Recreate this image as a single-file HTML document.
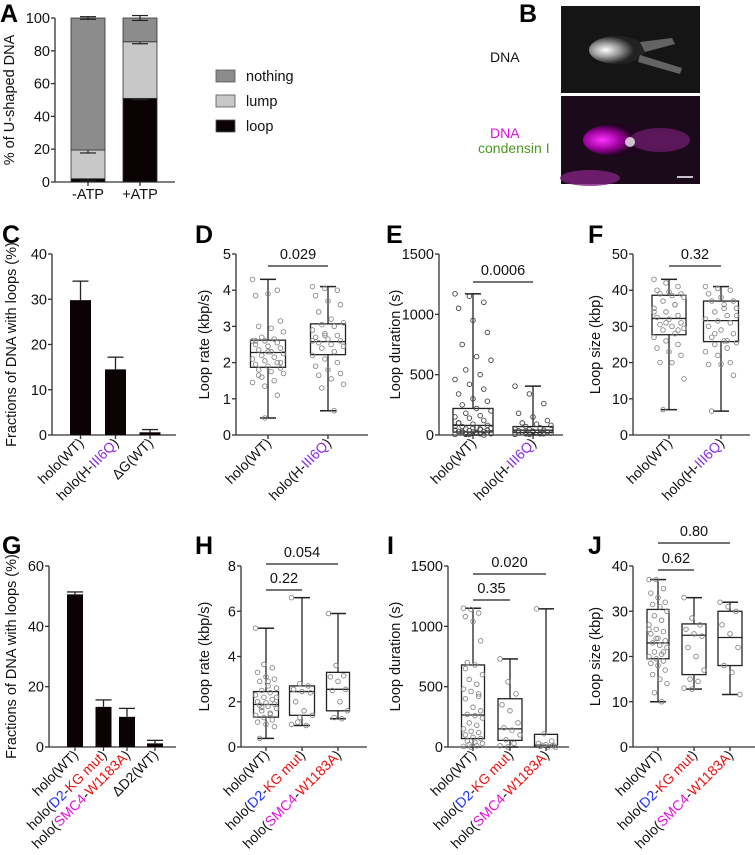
<!DOCTYPE html>
<html><head><meta charset="utf-8"><style>
html,body{margin:0;padding:0;background:#fff}
svg{display:block;font-family:"Liberation Sans",Arial,sans-serif}
</style></head><body>
<svg id="fig" width="755" height="855" viewBox="0 0 755 855" xmlns="http://www.w3.org/2000/svg">
<defs>
<radialGradient id="g1" cx="0.3" cy="0.5" r="0.5"><stop offset="0" stop-color="#fff"/><stop offset="0.5" stop-color="#999"/><stop offset="1" stop-color="#222"/></radialGradient>
<radialGradient id="g2" cx="0.3" cy="0.5" r="0.5"><stop offset="0" stop-color="#f3f"/><stop offset="0.6" stop-color="#909"/><stop offset="1" stop-color="#200420"/></radialGradient>
</defs>
<g>
<rect x="561" y="6" width="139" height="87" fill="#151515"/>
<ellipse cx="617" cy="50" rx="28" ry="14" fill="url(#g1)"/>
<polygon points="640,42 672,38 675,44 645,52" fill="#777" opacity="0.8"/>
<polygon points="640,55 682,68 680,74 638,62" fill="#777" opacity="0.8"/>
<rect x="561" y="96" width="139" height="88" fill="#1a0a1a"/>
<ellipse cx="615" cy="140" rx="32" ry="16" fill="url(#g2)"/>
<ellipse cx="660" cy="140" rx="30" ry="12" fill="#6a1a6a" opacity="0.8"/>
<circle cx="630" cy="142" r="5" fill="#eee" opacity="0.8"/>
<ellipse cx="590" cy="178" rx="30" ry="8" fill="#802080" opacity="0.8"/>
<line x1="677" y1="177" x2="693" y2="177" stroke="#fff" stroke-width="1.5"/>
<text x="490" y="62" font-size="14" fill="#111">DNA</text>
<text x="490" y="138" font-size="14" fill="#e010e0">DNA</text>
<text x="478" y="153" font-size="14" fill="#4a9a20">condensin I</text>
</g>
</svg>
<script>
const NS='http://www.w3.org/2000/svg';
const svg=document.getElementById('fig');
function mk(tag,attrs,parent,txt){const e=document.createElementNS(NS,tag);for(const k in attrs)e.setAttribute(k,attrs[k]);if(txt!==undefined)e.textContent=txt;(parent||svg).appendChild(e);return e;}

const aCats=['-ATP','+ATP'];
const aLoop=[2,51];
const aLump=[17.5,34.5];
const aNothing=[80.5,14.5];
const aLoopErr=[1.5,0.8];
const aLumpErr=[1.8,1.2];
const aNothingErr=[0.8,1.5];

const cCats=['holo(WT)','holo(H-III6Q)','ΔG(WT)'];
const cVals=[29.8,14.5,0.6];
const cErr=[4.2,2.7,0.6];

const gCats=['holo(WT)','holo(D2-KG mut)','holo(SMC4-W1183A)','ΔD2(WT)'];
const gVals=[50.6,13.3,10,1.2];
const gErr=[0.8,2.3,2.8,1.0];

const dWT=[4.3,0.47,4.0,3.85,3.9,3.15,3.0,2.95,2.85,2.7,2.65,2.6,2.6,2.55,2.5,2.45,2.4,2.35,2.3,2.25,2.2,2.15,2.1,2.05,2.0,1.95,1.9,1.85,1.8,1.75,1.7,1.6,1.5,1.45,1.35,1.1,2.6,2.3,2.0,1.65];
const dH=[4.1,4.05,4.0,3.85,3.7,3.6,3.4,3.2,3.1,3.05,3.0,2.9,2.8,2.75,2.7,2.65,2.6,2.55,2.5,2.45,2.4,2.3,2.2,2.1,2.0,1.9,1.8,1.7,1.65,1.55,1.4,1.3,0.67,2.6,2.75];
const dStats=[[0.47,1.87,2.28,2.62,4.3],[0.67,2.22,2.58,3.07,4.1]];
const eWT=[1170,1150,1100,1050,950,850,750,650,620,540,500,460,420,380,340,300,280,250,220,200,180,160,150,140,120,100,90,80,70,60,55,50,45,40,35,30,30,25,20,20,15,15,10,10,5,5,0,100,60,40,30,20,10,5,50,70];
const eH=[405,340,260,180,150,120,100,90,80,70,60,50,45,40,35,30,25,20,20,15,10,10,5,5,10,20,30];
const eStats=[[0,25,80,220,1170],[0,20,40,70,405]];
const fWT=[43,42,41,40,39.5,39,39,38.5,38,37,36,35,34,33,32.5,32,31,30.5,30,29.5,29,28,27,26,25,24,23,22,20,20,15.5,7,36,34,31,29];
const fH=[41,40.5,40,39,38,37,37,36,35,34,33,32,31.5,31,30,29,28,27,26,25.5,25,24,23,22,20,19.5,19.5,16.5,6.6,35,33,28,26];
const fStats=[[7,27.7,32.2,38.6,43],[6.6,25.8,31.6,37,41]];
const hWT=[5.25,3.65,3.5,3.3,3.1,3.0,2.9,2.7,2.6,2.5,2.4,2.3,2.2,2.1,2.0,1.95,1.9,1.85,1.8,1.7,1.6,1.5,1.4,1.3,1.2,1.1,1.0,0.9,0.38,2.9,2.2,1.75,1.45];
const hD2=[6.6,2.8,2.7,2.55,2.45,2.4,2.0,1.6,1.4,1.1,0.95,1.0,1.3];
const hSM=[5.9,3.6,3.15,3.1,2.9,2.55,2.5,2.0,1.6,1.3,1.25];
const hStats=[[0.38,1.32,1.88,2.45,5.25],[0.95,1.4,2.45,2.7,6.6],[1.25,1.6,2.55,3.3,5.9]];
const iWT=[1150,1140,1110,1080,1040,880,700,680,600,560,520,480,460,420,400,330,300,270,260,240,200,180,150,130,120,100,80,70,50,40,30,20,10,5,0,440,650];
const iD2=[730,540,440,350,300,200,160,140,100,60,30,10,0];
const iSM=[1145,110,50,30,20,10,5,0,0,15];
const iStats=[[0,70,265,680,1150],[0,55,150,400,730],[0,0,15,105,1145]];
const jWT=[37,37,35,34,33,32,31.5,31,30,29,28,27,26,25.5,25,24,23.5,23,22.5,22,21,20.5,20,19.5,19,18.5,18,17,16,15,14,12,10,26,24,21];
const jD2=[33,28.5,27,26,25,24.5,22,20,17,15,14.5,13,12.8];
const jSM=[32,31,30,27,25,22,18,16.5,11.6];
const jStats=[[10,19.5,23,30.4,37],[12.8,16,24.7,27.2,33],[11.6,18,24.2,30,32]];

function panelLetter(t,x,y){const e=mk('text',{x:x,y:y,'font-size':25,'font-weight':'bold',fill:'#000'},svg,t);

}
function axes(p){
 const g=mk('g',{});
 
 
 const y=v=>p.yBot-(v/p.max)*(p.yBot-p.yTop);
 mk('line',{x1:p.x0,y1:p.yTop,x2:p.x0,y2:p.yBot,stroke:'#333','stroke-width':1.3},g);
 mk('line',{x1:p.x0,y1:p.yBot,x2:p.x1,y2:p.yBot,stroke:'#333','stroke-width':1.3},g);
 p.ticks.forEach(t=>{const yy=y(t);mk('line',{x1:p.x0-4,y1:yy,x2:p.x0,y2:yy,stroke:'#333','stroke-width':1.3},g);
  const tl=mk('text',{x:p.x0-5,y:yy+5,'font-size':14.5,'text-anchor':'end',fill:'#111'},g,String(t));
  
  });
 const tt=mk('text',{transform:`translate(${p.titleX},${(p.yTop+p.yBot)/2}) rotate(-90)`,'font-size':14.5,'text-anchor':'middle',fill:'#111'},g,p.title);
 
 
 return y;}
function xLabel(parts,x,yAx){
 const t=mk('text',{transform:`translate(${x+4},${yAx+9}) rotate(-45)`,'font-size':14,'text-anchor':'end',fill:'#111'});
 
 
 parts.forEach(p=>mk('tspan',{fill:p[1]},t,p[0]));}
function xTick(x,yAx){mk('line',{x1:x,y1:yAx,x2:x,y2:yAx+4,stroke:'#333','stroke-width':1.3});}
function sig(x1,x2,yy,label){
 const g=mk('g',{});
 
 
 mk('line',{x1:x1,y1:yy,x2:x2,y2:yy,stroke:'#222','stroke-width':1.2},g);
 mk('text',{x:(x1+x2)/2,y:yy-7,'font-size':14.5,'text-anchor':'middle',fill:'#111'},g,label);}
function box(cx,w,st,pts,y,name,dotCol){
 const g=mk('g',{});
 
 
 const [mn,q1,md,q3,mx]=st;
 mk('line',{x1:cx,y1:y(mx),x2:cx,y2:y(q3),stroke:'#222','stroke-width':1.3},g);
 mk('line',{x1:cx,y1:y(q1),x2:cx,y2:y(mn),stroke:'#222','stroke-width':1.3},g);
 mk('line',{x1:cx-8,y1:y(mx),x2:cx+8,y2:y(mx),stroke:'#222','stroke-width':1.5},g);
 mk('line',{x1:cx-8,y1:y(mn),x2:cx+8,y2:y(mn),stroke:'#222','stroke-width':1.5},g);
 mk('rect',{x:cx-w/2,y:y(q3),width:w,height:y(q1)-y(q3),fill:'none',stroke:'#222','stroke-width':1.3},g);
 mk('line',{x1:cx-w/2,y1:y(md),x2:cx+w/2,y2:y(md),stroke:'#222','stroke-width':1.3},g);
 pts.forEach((v,i)=>{const off=((i*37)%11-5)/5*(w/2-2);
  const c=mk('circle',{cx:cx+off,cy:y(v),r:2.3,fill:'none',stroke:dotCol||'#888','stroke-width':0.9},g);
  
  });}
function bars(cats,vals,errs,xs,w,y,name){
 cats.forEach((c,i)=>{const g=mk('g',{});
  
  
  const cx=xs[i];
  mk('rect',{x:cx-w/2,y:y(vals[i]),width:w,height:y(0)-y(vals[i]),fill:'#0b0204'},g);
  const ye=y(vals[i]+errs[i]);
  mk('line',{x1:cx,y1:ye,x2:cx,y2:y(vals[i]),stroke:'#222','stroke-width':1.3},g);
  mk('line',{x1:cx-8,y1:ye,x2:cx+8,y2:ye,stroke:'#222','stroke-width':1.3},g);});}

panelLetter('A',0,22);
const yA=axes({x0:55,x1:175,yTop:18,yBot:182,max:100,ticks:[0,20,40,60,80,100],title:'% of U-shaped DNA',titleX:14,name:'panel-a'});
const axX=[88,140];
aCats.forEach((c,i)=>{const x=axX[i],w=34;
 const segs=[[0,aLoop[i],'#0b0204',aLoopErr[i]],[aLoop[i],aLoop[i]+aLump[i],'#c8c8c8',aLumpErr[i]],[aLoop[i]+aLump[i],aLoop[i]+aLump[i]+aNothing[i],'#8c8c8c',aNothingErr[i]]];
 segs.forEach((s,k)=>{const r=mk('rect',{x:x-w/2,y:yA(s[1]),width:w,height:yA(s[0])-yA(s[1]),fill:s[2],stroke:'#333','stroke-width':0.8});
  
  
  const ye=yA(s[1]);
  mk('line',{x1:x-8,y1:ye-s[3]*1.64,x2:x+8,y2:ye-s[3]*1.64,stroke:'#222','stroke-width':1.2});
  mk('line',{x1:x-8,y1:ye+s[3]*1.64,x2:x+8,y2:ye+s[3]*1.64,stroke:'#222','stroke-width':1.2});
  mk('line',{x1:x,y1:ye-s[3]*1.64,x2:x,y2:ye+s[3]*1.64,stroke:'#222','stroke-width':1.2});});
 xTick(x,182);
 const t=mk('text',{x:x,y:199,'font-size':14.5,'text-anchor':'middle',fill:'#111'},svg,c);
 
 });
[['nothing','#8c8c8c',70],['lump','#c8c8c8',95],['loop','#0b0204',120]].forEach(l=>{const g=mk('g',{});
 
 
 mk('rect',{x:216,y:l[2],width:19,height:12,fill:l[1],stroke:'#555','stroke-width':0.8},g);
 mk('text',{x:246,y:l[2]+11,'font-size':14.5,fill:'#111'},g,l[0]);});
panelLetter('B',519,22);

panelLetter('C',2,243);
const yC=axes({x0:52,x1:176,yTop:254,yBot:435,max:40,ticks:[0,10,20,30,40],title:'Fractions of DNA with loops (%)',titleX:16,name:'panel-c'});
const cX=[80.5,115.5,150];
bars(cCats,cVals,cErr,cX,21,yC,'panel-c');
cX.forEach(x=>xTick(x,435));
xLabel([['holo(WT)','#111']],cX[0],435);
xLabel([['holo(H-','#111'],['III6Q','#8a2be2'],[')','#111']],cX[1],435);
xLabel([['ΔG(WT)','#111']],cX[2],435);

panelLetter('D',195,243);
const yD=axes({x0:236,x1:368,yTop:254,yBot:435,max:5,ticks:[0,1,2,3,4,5],title:'Loop rate (kbp/s)',titleX:209,name:'panel-d'});
box(268,35,dStats[0],dWT,yD,'box-d-wt');
box(328,35,dStats[1],dH,yD,'box-d-h');
[268,328].forEach(x=>xTick(x,435));
sig(268,328,266,'0.029');
xLabel([['holo(WT)','#111']],268,435);
xLabel([['holo(H-','#111'],['III6Q','#8a2be2'],[')','#111']],328,435);

panelLetter('E',386,243);
const yE=axes({x0:439,x1:563,yTop:254,yBot:435,max:1500,ticks:[0,500,1000,1500],title:'Loop duration (s)',titleX:400,name:'panel-e'});
box(473,40,eStats[0],eWT,yE,'box-e-wt','#444');
box(533,40,eStats[1],eH,yE,'box-e-h','#444');
[473,533].forEach(x=>xTick(x,435));
sig(473,533,282,'0.0006');
xLabel([['holo(WT)','#111']],473,435);
xLabel([['holo(H-','#111'],['III6Q','#8a2be2'],[')','#111']],533,435);

panelLetter('F',588,243);
const yF=axes({x0:633,x1:750,yTop:254,yBot:435,max:50,ticks:[0,10,20,30,40,50],title:'Loop size (kbp)',titleX:600,name:'panel-f'});
box(669,34,fStats[0],fWT,yF,'box-f-wt');
box(721,35,fStats[1],fH,yF,'box-f-h');
[669,721].forEach(x=>xTick(x,435));
sig(669,721,266,'0.32');
xLabel([['holo(WT)','#111']],669,435);
xLabel([['holo(H-','#111'],['III6Q','#8a2be2'],[')','#111']],721,435);

panelLetter('G',2,554);
const yG=axes({x0:49,x1:176,yTop:566,yBot:747,max:60,ticks:[0,20,40,60],title:'Fractions of DNA with loops (%)',titleX:16,name:'panel-g'});
const gX=[75,103.5,127,155];
bars(gCats,gVals,gErr,gX,16,yG,'panel-g');
gX.forEach(x=>xTick(x,747));
const lWT=[['holo(WT)','#111']];
const lD2=[['holo(','#111'],['D2','#1a2cff'],['-','#111'],['KG mut','#ee1111'],[')','#111']];
const lSM=[['holo(','#111'],['SMC4','#e010e0'],['-','#111'],['W1183A','#ee1111'],[')','#111']];
xLabel(lWT,gX[0],747);xLabel(lD2,gX[1],747);xLabel(lSM,gX[2],747);xLabel([['ΔD2(WT)','#111']],gX[3],747);

panelLetter('H',195,554);
const yH=axes({x0:241,x1:367,yTop:566,yBot:747,max:8,ticks:[0,2,4,6,8],title:'Loop rate (kbp/s)',titleX:209,name:'panel-h'});
box(266,25,hStats[0],hWT,yH,'box-h-wt');
box(302,25,hStats[1],hD2,yH,'box-h-d2');
box(338,23,hStats[2],hSM,yH,'box-h-smc4');
[266,302,338].forEach(x=>xTick(x,747));
sig(266,302,590,'0.22');sig(266,338,564,'0.054');
xLabel(lWT,266,747);xLabel(lD2,302,747);xLabel(lSM,338,747);

panelLetter('I',387,554);
const yI=axes({x0:448,x1:569,yTop:566,yBot:747,max:1500,ticks:[0,500,1000,1500],title:'Loop duration (s)',titleX:400,name:'panel-i'});
box(473,23,iStats[0],iWT,yI,'box-i-wt');
box(510,24,iStats[1],iD2,yI,'box-i-d2');
box(546,23,iStats[2],iSM,yI,'box-i-smc4');
[473,510,546].forEach(x=>xTick(x,747));
sig(473,510,600,'0.35');sig(473,546,574,'0.020');
xLabel(lWT,473,747);xLabel(lD2,510,747);xLabel(lSM,546,747);

panelLetter('J',588,554);
const yJ=axes({x0:633,x1:755,yTop:566,yBot:747,max:40,ticks:[0,10,20,30,40],title:'Loop size (kbp)',titleX:600,name:'panel-j'});
box(658,22,jStats[0],jWT,yJ,'box-j-wt');
box(694,24,jStats[1],jD2,yJ,'box-j-d2');
box(730,24,jStats[2],jSM,yJ,'box-j-smc4');
[658,694,730].forEach(x=>xTick(x,747));
sig(658,694,570,'0.62');sig(658,730,543,'0.80');
xLabel(lWT,658,747);xLabel(lD2,694,747);xLabel(lSM,730,747);
</script>
</body></html>
